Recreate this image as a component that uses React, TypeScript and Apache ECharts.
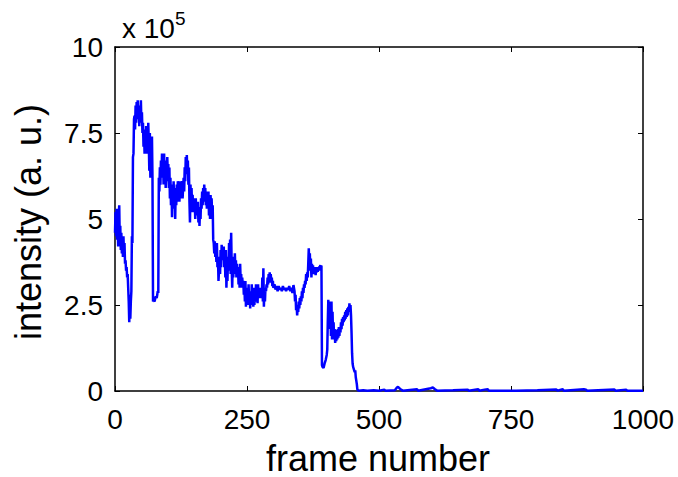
import React, { useEffect, useRef } from "react";
import * as echarts from "echarts";

const xTicks = [0, 250, 500, 750, 1000];
const yTicks = [0, 2.5, 5, 7.5, 10];
const xTitle = "frame number";
const yTitle = "intensity (a. u.)";

// intensity in units of 10^5, [frame, value]
const segStart: number[][] = [
  [0, 4.6], [1, 5.2], [2, 4.5], [3, 5.3], [4, 4.4], [5, 4.9], [6, 4.2], [7, 5.0], [8, 5.4], [9, 4.4],
  [10, 4.8], [11, 4.1], [12, 4.6], [13, 4.0], [14, 4.4], [15, 3.9], [16, 4.5], [17, 4.0], [18, 4.3], [19, 3.7],
  [20, 3.8], [21, 3.5], [22, 3.6], [23, 3.3], [24, 3.4], [25, 3.0], [26, 2.6], [27, 2.0], [28, 2.8], [29, 2.1],
  [30, 2.6], [31, 2.9], [32, 4.5], [33, 4.3], [34, 6.8], [35, 6.9], [36, 7.9], [37, 8.0], [38, 7.6], [39, 8.3],
  [40, 7.8], [41, 8.4], [42, 8.0], [43, 8.45], [44, 7.9], [45, 8.2], [46, 7.7], [47, 8.3], [48, 7.9], [49, 8.45],
  [50, 7.8], [51, 8.1], [52, 7.5], [53, 7.8], [54, 7.1], [55, 7.6], [56, 6.9], [57, 7.5], [58, 7.0], [59, 7.7],
  [60, 6.9], [61, 7.4], [62, 7.0], [63, 7.8], [64, 7.2], [65, 6.4], [66, 7.5], [67, 6.2], [68, 7.2], [69, 6.5],
  [70, 7.4], [71, 6.2], [72, 2.6], [73, 2.65], [75, 2.6], [77, 2.75], [79, 2.7], [81, 2.9], [82, 2.85],
];
const segMid1: number[][] = [
  [83, 6.2], [84, 5.8], [85, 6.5], [86, 6.0], [87, 6.7], [88, 6.2], [89, 6.9], [90, 6.4], [91, 6.8], [92, 6.0],
  [93, 6.9], [94, 6.3], [95, 6.7], [96, 5.9], [97, 6.4], [98, 6.1], [99, 6.8], [100, 6.3], [101, 6.6], [102, 5.9],
  [103, 6.5], [104, 5.6], [105, 6.2], [106, 5.4], [107, 6.0], [108, 5.05], [109, 5.9], [110, 5.3], [111, 6.1], [112, 5.5],
  [113, 5.9], [114, 5.0], [115, 5.85], [116, 5.4], [117, 6.0], [118, 5.5], [119, 6.1], [120, 5.6], [121, 5.9], [122, 5.5],
  [123, 6.1], [124, 5.7], [125, 6.0], [126, 5.6], [127, 6.1], [128, 5.6], [129, 5.9], [130, 6.2], [131, 5.8], [132, 6.5],
  [133, 6.1], [134, 6.8], [135, 6.3], [136, 6.86], [137, 6.4], [138, 6.7], [139, 6.0], [140, 6.5], [141, 5.5], [142, 4.9],
  [143, 6.0], [144, 5.4], [145, 5.9], [146, 5.2], [147, 5.7], [148, 5.3], [149, 5.6], [150, 5.2], [151, 5.5], [152, 5.0],
  [153, 5.6], [154, 5.1], [155, 5.5], [156, 5.2], [157, 5.5], [158, 4.9], [159, 5.35], [160, 4.8], [161, 5.3], [162, 5.0],
  [163, 5.6], [164, 5.3], [165, 5.8], [166, 5.4], [167, 5.9], [168, 5.5], [169, 6.0], [170, 5.7], [171, 5.9], [172, 5.4],
  [173, 5.8], [174, 5.3], [175, 5.7], [176, 5.3], [177, 5.8], [178, 5.1], [179, 5.6], [180, 5.0], [181, 5.7], [182, 5.2],
  [183, 5.6], [184, 5.0], [185, 5.4],
];
const segMid2: number[][] = [
  [186, 4.4], [187, 4.3], [188, 4.0], [189, 4.35], [190, 3.9], [191, 4.2], [192, 3.75], [193, 4.3], [194, 3.6], [195, 3.9],
  [196, 3.2], [197, 3.5], [198, 3.9], [199, 3.4], [200, 4.1], [201, 3.6], [202, 4.25], [203, 3.8], [204, 4.1], [205, 3.8],
  [206, 4.2], [207, 3.6], [208, 3.9], [209, 3.3], [210, 4.1], [211, 3.0], [212, 3.6], [213, 3.2], [214, 3.9], [215, 3.5],
  [216, 4.3], [217, 3.6], [218, 4.4], [219, 3.4], [220, 4.6], [221, 3.6], [222, 3.0], [223, 3.8], [224, 3.3], [225, 3.9],
  [226, 3.4], [227, 4.0], [228, 3.5], [229, 3.8], [230, 3.3], [231, 3.7], [232, 3.3], [233, 3.6], [234, 3.1], [235, 3.5],
  [236, 3.0], [237, 3.7], [238, 3.2], [239, 3.4], [240, 3.0], [241, 3.3], [242, 3.05], [243, 3.2], [244, 2.8], [245, 3.1],
  [246, 2.6], [247, 3.2], [248, 2.45], [249, 2.9], [250, 2.6], [251, 3.0], [252, 2.5], [253, 3.1], [254, 2.6], [255, 2.9],
  [256, 2.4], [257, 2.8], [258, 2.5], [259, 3.1], [260, 2.6], [261, 2.9], [262, 2.45], [263, 3.0], [264, 2.5], [265, 2.8],
  [266, 2.6], [267, 3.1], [268, 2.7], [269, 2.9], [270, 2.55], [271, 3.1], [272, 2.7], [273, 2.9], [274, 2.7], [275, 3.0],
  [276, 2.75], [277, 2.95], [278, 2.7], [279, 3.3], [280, 2.6], [281, 3.57], [282, 2.45], [283, 3.0], [284, 2.6], [285, 3.0],
  [286, 2.9], [287, 3.1], [288, 3.0], [289, 3.3], [290, 3.1], [291, 3.4], [292, 3.15], [293, 3.45], [294, 3.2], [295, 3.4],
  [296, 3.15], [297, 3.3], [298, 3.05], [299, 3.2],
];
const segLate: number[][] = [
  [300, 3.0], [302, 3.1], [304, 2.95], [306, 3.05], [308, 2.9], [310, 3.05], [312, 2.95], [314, 3.0], [316, 2.9], [318, 3.05],
  [320, 2.95], [322, 3.0], [324, 2.9], [326, 3.0], [328, 2.95], [330, 3.05], [332, 2.9], [334, 3.0], [336, 2.85], [338, 3.08],
  [340, 2.9], [341, 2.6], [342, 2.8], [343, 2.35], [344, 2.5], [345, 2.2], [346, 2.45], [347, 2.3], [348, 2.6], [349, 2.4],
  [350, 2.7], [351, 2.5], [352, 2.75], [353, 2.6], [354, 2.9], [355, 2.7], [356, 3.0], [357, 2.85], [358, 3.1], [359, 3.0],
  [360, 3.2], [361, 3.1], [362, 3.4], [363, 3.2], [364, 3.45], [365, 3.3], [366, 3.7], [367, 4.15], [368, 3.6], [369, 4.0],
  [370, 3.5], [371, 3.85], [372, 3.3], [373, 3.7], [374, 3.45], [375, 3.65], [376, 3.4], [377, 3.6], [378, 3.45], [379, 3.6],
  [380, 3.37], [381, 3.55], [382, 3.45], [383, 3.6], [384, 3.46], [385, 3.6], [386, 3.5], [387, 3.62], [388, 3.6], [389, 3.66],
  [390, 3.5], [391, 3.65], [392, 0.75], [393, 0.7], [395, 0.67], [397, 0.8], [399, 0.9], [401, 1.05], [402, 1.2], [403, 2.0],
  [404, 2.65], [405, 1.9], [406, 2.6], [407, 1.8], [408, 2.5], [409, 1.6], [410, 2.6], [411, 1.5], [412, 2.3], [413, 1.55],
  [414, 2.0], [415, 1.5], [416, 1.8], [417, 1.4], [418, 1.7], [419, 1.45], [420, 1.77], [421, 1.5], [422, 1.8], [423, 1.55],
  [424, 1.86], [425, 1.6], [426, 1.85], [427, 1.7], [428, 2.0], [429, 1.8], [430, 2.1], [431, 1.9], [432, 2.15], [433, 2.0],
  [434, 2.2], [435, 2.05], [436, 2.3], [437, 2.1], [438, 2.35], [439, 2.15], [440, 2.4], [441, 2.2], [442, 2.45], [443, 2.3],
  [444, 2.55], [445, 2.35], [446, 2.5], [447, 2.2], [448, 1.7], [449, 1.1], [450, 0.8], [451, 0.7], [452, 0.65], [453, 0.6],
  [454, 0.55], [455, 0.6], [456, 0.4], [457, 0.3], [458, 0.2], [459, 0.05], [460, 0.02],
];
const segTail: number[][] = [
  [462, 0.01], [470, 0.02], [478, 0.01], [490, 0.02], [500, 0.01], [510, 0.04], [512, 0.01], [530, 0.02], [534, 0.1], [536, 0.12],
  [540, 0.06], [545, 0.01], [572, 0.05], [574, 0.01], [598, 0.08], [602, 0.1], [606, 0.05], [610, 0.01], [640, 0.02], [668, 0.04],
  [670, 0.01], [688, 0.05], [690, 0.01], [700, 0.04], [706, 0.05], [708, 0.01], [760, 0.01], [800, 0.02], [836, 0.04], [838, 0.01],
  [848, 0.05], [850, 0.01], [888, 0.05], [892, 0.04], [894, 0.01], [946, 0.04], [948, 0.01], [968, 0.04], [970, 0.01], [1000, 0.01],
];

const FONT = "'Liberation Sans', Arial, sans-serif";

export default function App() {
  const ref = useRef<HTMLDivElement>(null);
  useEffect(() => {
    if (!ref.current) return;
    const chart = echarts.init(ref.current, null, { renderer: "svg" });
    const data = [...segStart, ...segMid1, ...segMid2, ...segLate, ...segTail];
    const axisLine = { show: true, onZero: false, lineStyle: { color: "#000", width: 1.5 } };
    const tick = { show: true, inside: true, length: 5, lineStyle: { color: "#000", width: 1 } };
    const xMin = xTicks[0], xMax = xTicks[xTicks.length - 1];
    const yMin = yTicks[0], yMax = yTicks[yTicks.length - 1];
    const fmt = (v: number) => String(v);
    chart.setOption({
      animation: false,
      backgroundColor: "#fff",
      grid: { left: 115, top: 47, right: 35, bottom: 86, containLabel: false },
      xAxis: [
        {
          type: "value", min: xMin, max: xMax, interval: 250, position: "bottom",
          axisLine, axisTick: tick, splitLine: { show: false },
          axisLabel: { color: "#000", fontSize: 28, fontFamily: FONT, margin: 14, formatter: fmt },
        },
        {
          type: "value", min: xMin, max: xMax, interval: 250, position: "top",
          axisLine, axisTick: tick, splitLine: { show: false }, axisLabel: { show: false },
        },
      ],
      yAxis: [
        {
          type: "value", min: yMin, max: yMax, interval: 2.5, position: "left",
          axisLine, axisTick: tick, splitLine: { show: false },
          axisLabel: { color: "#000", fontSize: 28, fontFamily: FONT, margin: 12, formatter: fmt },
        },
        {
          type: "value", min: yMin, max: yMax, interval: 2.5, position: "right",
          axisLine, axisTick: tick, splitLine: { show: false }, axisLabel: { show: false },
        },
      ],
      series: [
        {
          type: "line",
          data,
          showSymbol: false,
          lineStyle: { color: "#0000ff", width: 2.5 },
          itemStyle: { color: "#0000ff" },
        },
      ],
      graphic: [
        {
          type: "text", x: 378, y: 458,
          style: { text: xTitle, font: `36px ${FONT}`, fill: "#000", textAlign: "center", textVerticalAlign: "middle" },
        },
        {
          type: "text", x: 28, y: 222, rotation: Math.PI / 2,
          style: { text: yTitle, font: `36px ${FONT}`, fill: "#000", textAlign: "center", textVerticalAlign: "middle" },
        },
        {
          type: "text", x: 122, y: 42,
          style: {
            text: "{a|x 10}{b|5}",
            fill: "#000",
            textVerticalAlign: "bottom",
            rich: {
              a: { fontSize: 28, fontFamily: FONT, fill: "#000", verticalAlign: "bottom" },
              b: { fontSize: 19, fontFamily: FONT, fill: "#000", verticalAlign: "top", padding: [0, 0, 14, 0] },
            },
          },
        },
      ],
    });
    return () => chart.dispose();
  }, []);
  return <div ref={ref} style={{ width: 678, height: 477, position: "absolute", left: 0, top: 0 }} />;
}
